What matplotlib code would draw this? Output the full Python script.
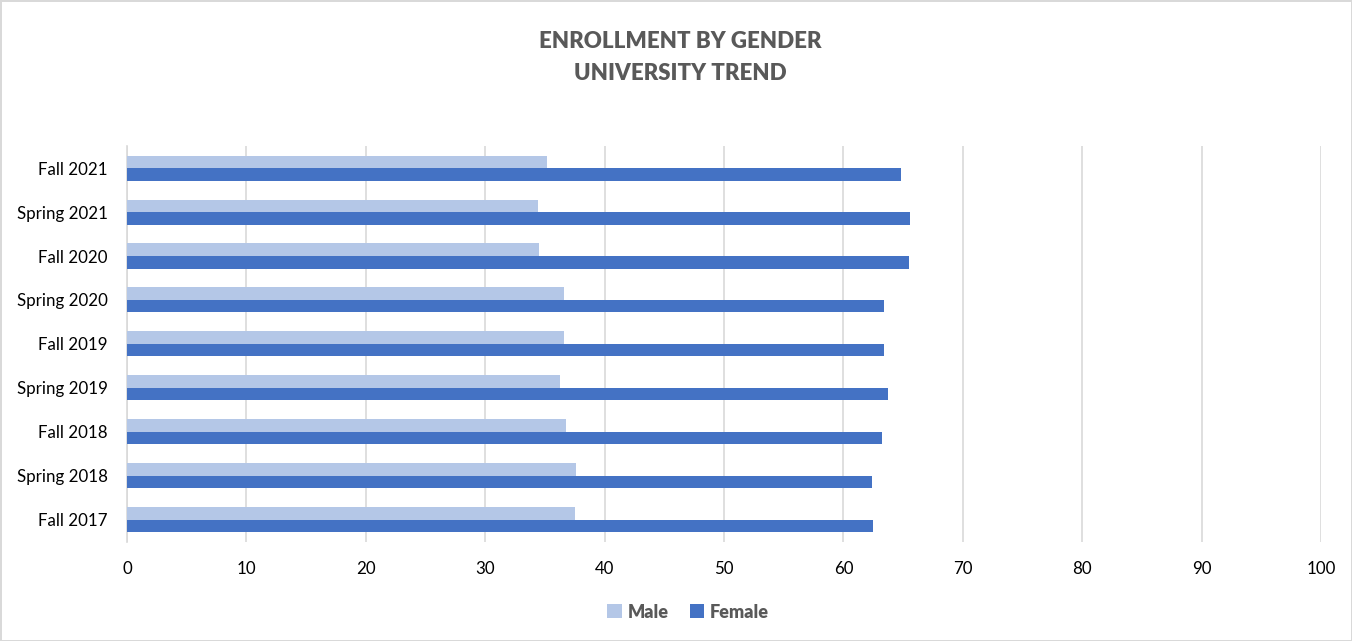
import matplotlib
matplotlib.use("Agg")
import matplotlib.pyplot as plt
import numpy as np

plt.rcParams['font.family'] = ['Lato', 'DejaVu Sans']

# data, bottom to top as drawn
terms = ["Fall 2017", "Spring 2018", "Fall 2018", "Spring 2019", "Fall 2019",
         "Spring 2020", "Fall 2020", "Spring 2021", "Fall 2021"]
male = [37.5, 37.6, 36.8, 36.3, 36.6, 36.6, 34.5, 34.4, 35.2]
female = [62.5, 62.4, 63.2, 63.7, 63.4, 63.4, 65.5, 65.6, 64.8]
x_ticks = [0, 10, 20, 30, 40, 50, 60, 70, 80, 90, 100]

male_color = "#B4C7E7"
female_color = "#4472C4"

fig = plt.figure(figsize=(13.52, 6.41), dpi=100)
fig.patch.set_edgecolor("#d9d9d9")
fig.patch.set_linewidth(2)

ax = fig.add_axes([0.094, 0.155, 0.883, 0.617])

y = np.arange(len(terms))
h = 0.285
ax.barh(y + h / 2, male, height=h, color=male_color, label="Male", zorder=3)
ax.barh(y - h / 2, female, height=h, color=female_color, label="Female", zorder=3)

ax.set_xlim(0, 100)
ax.set_ylim(-0.5, len(terms) - 0.5)
ax.set_xticks(x_ticks)
ax.set_yticks(y)
ax.set_yticklabels(terms)
ax.tick_params(axis="both", length=0, labelsize=12.2, colors="#000000")
ax.tick_params(axis="x", pad=14)
ax.tick_params(axis="y", pad=14)
ax.xaxis.grid(True, color="#d9d9d9", linewidth=1.2, zorder=0)

for s in ["top", "right", "bottom"]:
    ax.spines[s].set_visible(False)
ax.spines["left"].set_color("#d9d9d9")
ax.spines["left"].set_linewidth(1.2)

fig.text(0.503, 0.935, "ENROLLMENT BY GENDER", ha="center", va="center",
         fontsize=16, fontweight="heavy", color="#595959")
fig.text(0.503, 0.886, "UNIVERSITY TREND", ha="center", va="center",
         fontsize=16, fontweight="heavy", color="#595959")

leg = fig.legend(loc="center", bbox_to_anchor=(0.509, 0.045), ncol=2, frameon=False,
                 handlelength=0.8, handleheight=0.8, handletextpad=0.3,
                 columnspacing=1.2, prop={"size": 13, "weight": "heavy"})
for t in leg.get_texts():
    t.set_color("#595959")

fig.savefig("out.png", dpi=100)
